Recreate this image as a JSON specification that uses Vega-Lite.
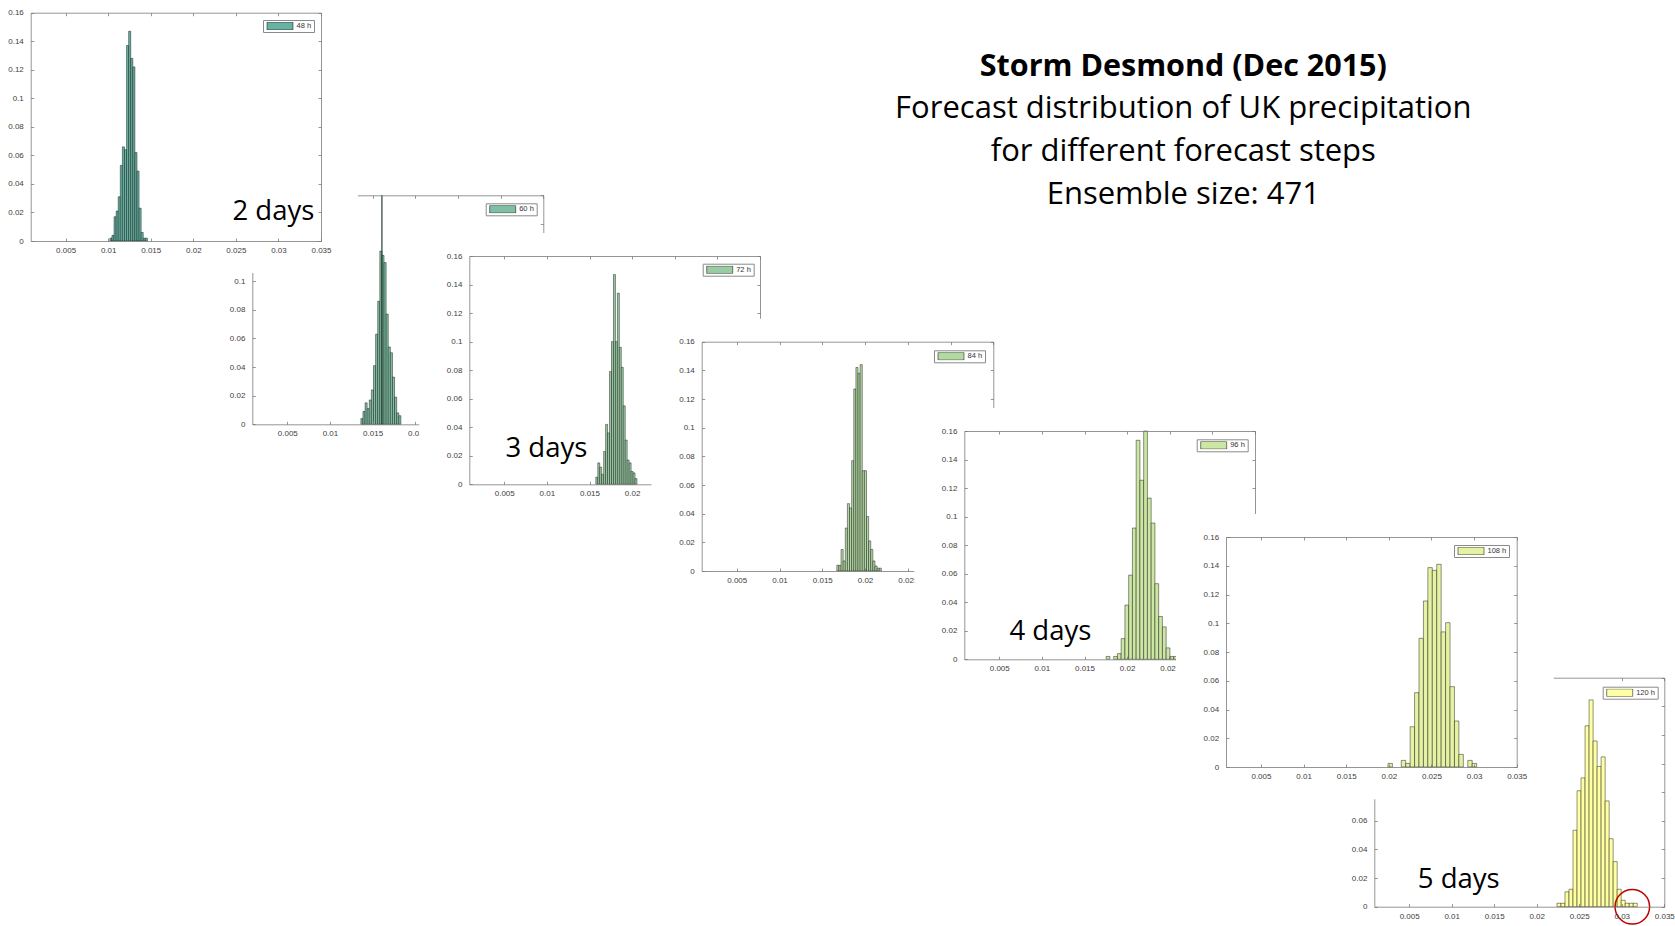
{
  "$schema": "https://vega.github.io/schema/vega-lite/v6.json",
  "padding": 0,
  "background": "white",
  "columns": 7,
  "spacing": -1675,
  "bounds": "flush",
  "align": "none",
  "resolve": {"scale": {"fill": "independent"}, "legend": {"fill": "independent"}},
  "datasets": {
    "d48": [
      {"b0": 0.010200, "b1": 0.010445, "p": 0.002, "step": "48 h"},
      {"b0": 0.010445, "b1": 0.010690, "p": 0.004, "step": "48 h"},
      {"b0": 0.010690, "b1": 0.010935, "p": 0.017, "step": "48 h"},
      {"b0": 0.010935, "b1": 0.011180, "p": 0.021, "step": "48 h"},
      {"b0": 0.011180, "b1": 0.011425, "p": 0.031, "step": "48 h"},
      {"b0": 0.011425, "b1": 0.011670, "p": 0.053, "step": "48 h"},
      {"b0": 0.011670, "b1": 0.011915, "p": 0.066, "step": "48 h"},
      {"b0": 0.011915, "b1": 0.012160, "p": 0.064, "step": "48 h"},
      {"b0": 0.012160, "b1": 0.012405, "p": 0.137, "step": "48 h"},
      {"b0": 0.012405, "b1": 0.012650, "p": 0.147, "step": "48 h"},
      {"b0": 0.012650, "b1": 0.012895, "p": 0.128, "step": "48 h"},
      {"b0": 0.012895, "b1": 0.013140, "p": 0.122, "step": "48 h"},
      {"b0": 0.013140, "b1": 0.013385, "p": 0.062, "step": "48 h"},
      {"b0": 0.013385, "b1": 0.013630, "p": 0.049, "step": "48 h"},
      {"b0": 0.013630, "b1": 0.013875, "p": 0.023, "step": "48 h"},
      {"b0": 0.013875, "b1": 0.014120, "p": 0.006, "step": "48 h"},
      {"b0": 0.014120, "b1": 0.014365, "p": 0.002, "step": "48 h"},
      {"b0": 0.014365, "b1": 0.014610, "p": 0.002, "step": "48 h"}
    ],
    "d60": [
      {"b0": 0.013620, "b1": 0.013867, "p": 0.004, "step": "60 h"},
      {"b0": 0.013867, "b1": 0.014114, "p": 0.009, "step": "60 h"},
      {"b0": 0.014114, "b1": 0.014361, "p": 0.015, "step": "60 h"},
      {"b0": 0.014361, "b1": 0.014608, "p": 0.011, "step": "60 h"},
      {"b0": 0.014608, "b1": 0.014855, "p": 0.017, "step": "60 h"},
      {"b0": 0.014855, "b1": 0.015102, "p": 0.024, "step": "60 h"},
      {"b0": 0.015102, "b1": 0.015349, "p": 0.041, "step": "60 h"},
      {"b0": 0.015349, "b1": 0.015596, "p": 0.063, "step": "60 h"},
      {"b0": 0.015596, "b1": 0.015843, "p": 0.086, "step": "60 h"},
      {"b0": 0.015843, "b1": 0.016090, "p": 0.121, "step": "60 h"},
      {"b0": 0.016090, "b1": 0.016337, "p": 0.118, "step": "60 h"},
      {"b0": 0.016337, "b1": 0.016584, "p": 0.113, "step": "60 h"},
      {"b0": 0.016584, "b1": 0.016831, "p": 0.077, "step": "60 h"},
      {"b0": 0.016831, "b1": 0.017078, "p": 0.054, "step": "60 h"},
      {"b0": 0.017078, "b1": 0.017325, "p": 0.050, "step": "60 h"},
      {"b0": 0.017325, "b1": 0.017572, "p": 0.033, "step": "60 h"},
      {"b0": 0.017572, "b1": 0.017819, "p": 0.019, "step": "60 h"},
      {"b0": 0.017819, "b1": 0.018066, "p": 0.008, "step": "60 h"},
      {"b0": 0.018066, "b1": 0.018313, "p": 0.006, "step": "60 h"},
      {"b0": 0.016050, "b1": 0.016130, "p": 0.160, "step": "60 h"}
    ],
    "d72": [
      {"b0": 0.01574, "b1": 0.01597, "p": 0.005, "step": "72 h"},
      {"b0": 0.01597, "b1": 0.01620, "p": 0.015, "step": "72 h"},
      {"b0": 0.01620, "b1": 0.01643, "p": 0.012, "step": "72 h"},
      {"b0": 0.01643, "b1": 0.01666, "p": 0.007, "step": "72 h"},
      {"b0": 0.01666, "b1": 0.01689, "p": 0.023, "step": "72 h"},
      {"b0": 0.01689, "b1": 0.01712, "p": 0.042, "step": "72 h"},
      {"b0": 0.01712, "b1": 0.01735, "p": 0.036, "step": "72 h"},
      {"b0": 0.01735, "b1": 0.01758, "p": 0.079, "step": "72 h"},
      {"b0": 0.01758, "b1": 0.01781, "p": 0.100, "step": "72 h"},
      {"b0": 0.01781, "b1": 0.01804, "p": 0.147, "step": "72 h"},
      {"b0": 0.01804, "b1": 0.01827, "p": 0.100, "step": "72 h"},
      {"b0": 0.01827, "b1": 0.01850, "p": 0.134, "step": "72 h"},
      {"b0": 0.01850, "b1": 0.01873, "p": 0.096, "step": "72 h"},
      {"b0": 0.01873, "b1": 0.01896, "p": 0.082, "step": "72 h"},
      {"b0": 0.01896, "b1": 0.01919, "p": 0.055, "step": "72 h"},
      {"b0": 0.01919, "b1": 0.01942, "p": 0.031, "step": "72 h"},
      {"b0": 0.01942, "b1": 0.01965, "p": 0.017, "step": "72 h"},
      {"b0": 0.01965, "b1": 0.01988, "p": 0.015, "step": "72 h"},
      {"b0": 0.01988, "b1": 0.02011, "p": 0.009, "step": "72 h"},
      {"b0": 0.02011, "b1": 0.02034, "p": 0.008, "step": "72 h"},
      {"b0": 0.02034, "b1": 0.02057, "p": 0.004, "step": "72 h"}
    ],
    "d84": [
      {"b0": 0.016700, "b1": 0.016948, "p": 0.004, "step": "84 h"},
      {"b0": 0.016948, "b1": 0.017196, "p": 0.004, "step": "84 h"},
      {"b0": 0.017196, "b1": 0.017444, "p": 0.015, "step": "84 h"},
      {"b0": 0.017444, "b1": 0.017692, "p": 0.007, "step": "84 h"},
      {"b0": 0.017692, "b1": 0.017940, "p": 0.030, "step": "84 h"},
      {"b0": 0.017940, "b1": 0.018188, "p": 0.047, "step": "84 h"},
      {"b0": 0.018188, "b1": 0.018436, "p": 0.044, "step": "84 h"},
      {"b0": 0.018436, "b1": 0.018684, "p": 0.077, "step": "84 h"},
      {"b0": 0.018684, "b1": 0.018932, "p": 0.127, "step": "84 h"},
      {"b0": 0.018932, "b1": 0.019180, "p": 0.142, "step": "84 h"},
      {"b0": 0.019180, "b1": 0.019428, "p": 0.138, "step": "84 h"},
      {"b0": 0.019428, "b1": 0.019676, "p": 0.144, "step": "84 h"},
      {"b0": 0.019676, "b1": 0.019924, "p": 0.070, "step": "84 h"},
      {"b0": 0.019924, "b1": 0.020172, "p": 0.070, "step": "84 h"},
      {"b0": 0.020172, "b1": 0.020420, "p": 0.038, "step": "84 h"},
      {"b0": 0.020420, "b1": 0.020668, "p": 0.021, "step": "84 h"},
      {"b0": 0.020668, "b1": 0.020916, "p": 0.015, "step": "84 h"},
      {"b0": 0.020916, "b1": 0.021164, "p": 0.007, "step": "84 h"},
      {"b0": 0.021164, "b1": 0.021412, "p": 0.0035, "step": "84 h"},
      {"b0": 0.021412, "b1": 0.021660, "p": 0.002, "step": "84 h"},
      {"b0": 0.021660, "b1": 0.021908, "p": 0.002, "step": "84 h"}
    ],
    "d96": [
      {"b0": 0.01754, "b1": 0.01798, "p": 0.002, "step": "96 h"},
      {"b0": 0.01842, "b1": 0.01886, "p": 0.002, "step": "96 h"},
      {"b0": 0.01886, "b1": 0.01930, "p": 0.004, "step": "96 h"},
      {"b0": 0.01930, "b1": 0.01974, "p": 0.0145, "step": "96 h"},
      {"b0": 0.01974, "b1": 0.02018, "p": 0.038, "step": "96 h"},
      {"b0": 0.02018, "b1": 0.02062, "p": 0.059, "step": "96 h"},
      {"b0": 0.02062, "b1": 0.02106, "p": 0.092, "step": "96 h"},
      {"b0": 0.02106, "b1": 0.02150, "p": 0.1535, "step": "96 h"},
      {"b0": 0.02150, "b1": 0.02194, "p": 0.1255, "step": "96 h"},
      {"b0": 0.02194, "b1": 0.02238, "p": 0.160, "step": "96 h"},
      {"b0": 0.02238, "b1": 0.02282, "p": 0.113, "step": "96 h"},
      {"b0": 0.02282, "b1": 0.02326, "p": 0.0955, "step": "96 h"},
      {"b0": 0.02326, "b1": 0.02370, "p": 0.053, "step": "96 h"},
      {"b0": 0.02370, "b1": 0.02414, "p": 0.030, "step": "96 h"},
      {"b0": 0.02414, "b1": 0.02458, "p": 0.0227, "step": "96 h"},
      {"b0": 0.02458, "b1": 0.02502, "p": 0.008, "step": "96 h"},
      {"b0": 0.02502, "b1": 0.02546, "p": 0.002, "step": "96 h"},
      {"b0": 0.02546, "b1": 0.02590, "p": 0.002, "step": "96 h"}
    ],
    "d108": [
      {"b0": 0.01990, "b1": 0.02042, "p": 0.0025, "step": "108 h"},
      {"b0": 0.02146, "b1": 0.02198, "p": 0.0046, "step": "108 h"},
      {"b0": 0.02198, "b1": 0.02250, "p": 0.0025, "step": "108 h"},
      {"b0": 0.02250, "b1": 0.02302, "p": 0.028, "step": "108 h"},
      {"b0": 0.02302, "b1": 0.02354, "p": 0.0517, "step": "108 h"},
      {"b0": 0.02354, "b1": 0.02406, "p": 0.0895, "step": "108 h"},
      {"b0": 0.02406, "b1": 0.02458, "p": 0.1155, "step": "108 h"},
      {"b0": 0.02458, "b1": 0.02510, "p": 0.1387, "step": "108 h"},
      {"b0": 0.02510, "b1": 0.02562, "p": 0.1368, "step": "108 h"},
      {"b0": 0.02562, "b1": 0.02614, "p": 0.141, "step": "108 h"},
      {"b0": 0.02614, "b1": 0.02666, "p": 0.094, "step": "108 h"},
      {"b0": 0.02666, "b1": 0.02718, "p": 0.1004, "step": "108 h"},
      {"b0": 0.02718, "b1": 0.02770, "p": 0.0559, "step": "108 h"},
      {"b0": 0.02770, "b1": 0.02822, "p": 0.032, "step": "108 h"},
      {"b0": 0.02822, "b1": 0.02874, "p": 0.0088, "step": "108 h"},
      {"b0": 0.02926, "b1": 0.02978, "p": 0.0046, "step": "108 h"},
      {"b0": 0.02978, "b1": 0.03030, "p": 0.0025, "step": "108 h"}
    ],
    "d120": [
      {"b0": 0.022380, "b1": 0.022852, "p": 0.0024, "step": "120 h"},
      {"b0": 0.022852, "b1": 0.023324, "p": 0.0024, "step": "120 h"},
      {"b0": 0.023324, "b1": 0.023796, "p": 0.0104, "step": "120 h"},
      {"b0": 0.023796, "b1": 0.024268, "p": 0.0122, "step": "120 h"},
      {"b0": 0.024268, "b1": 0.024740, "p": 0.0534, "step": "120 h"},
      {"b0": 0.024740, "b1": 0.025212, "p": 0.081, "step": "120 h"},
      {"b0": 0.025212, "b1": 0.025684, "p": 0.090, "step": "120 h"},
      {"b0": 0.025684, "b1": 0.026156, "p": 0.1264, "step": "120 h"},
      {"b0": 0.026156, "b1": 0.026628, "p": 0.1445, "step": "120 h"},
      {"b0": 0.026628, "b1": 0.027100, "p": 0.1158, "step": "120 h"},
      {"b0": 0.027100, "b1": 0.027572, "p": 0.098, "step": "120 h"},
      {"b0": 0.027572, "b1": 0.028044, "p": 0.1047, "step": "120 h"},
      {"b0": 0.028044, "b1": 0.028516, "p": 0.0739, "step": "120 h"},
      {"b0": 0.028516, "b1": 0.028988, "p": 0.0475, "step": "120 h"},
      {"b0": 0.028988, "b1": 0.029460, "p": 0.0315, "step": "120 h"},
      {"b0": 0.029460, "b1": 0.029932, "p": 0.0122, "step": "120 h"},
      {"b0": 0.029932, "b1": 0.030404, "p": 0.0045, "step": "120 h"},
      {"b0": 0.030404, "b1": 0.030876, "p": 0.0024, "step": "120 h"},
      {"b0": 0.030876, "b1": 0.031348, "p": 0.0024, "step": "120 h"},
      {"b0": 0.031348, "b1": 0.031820, "p": 0.0024, "step": "120 h"}
    ]
  },
  "concat": [
    {
      "width": 1675, "height": 926,
      "data": {"name": "d60"},
      "layer": [
        {"data": {"values": [{}]}, "mark": {"type": "rect", "fill": "white"},
         "encoding": {
           "x": {"datum": -0.00497, "type": "quantitative", "scale": {"domain": [0.0009, 0.035], "range": [252.3, 543.3], "nice": false, "zero": false}, "axis": {"orient": "top", "offset": -194.3, "values": [0.005,0.01,0.015,0.02,0.025,0.03,0.035], "labels": false, "title": null, "zindex": 1}},
           "x2": {"datum": 0.03934},
           "y": {"datum": -0.02236, "type": "quantitative", "scale": {"domain": [0, 0.16], "range": [423.3, 194.3], "nice": false, "zero": false}, "axis": {"orient": "right", "offset": -1131.7, "values": [0.14,0.16], "labels": false, "title": null, "zindex": 1}},
           "y2": {"datum": 0.17607}
         }},
        {"mark": {"type": "rect", "stroke": "black", "strokeWidth": 0.5, "strokeOpacity": 0.85},
         "encoding": {
           "x": {"field": "b0", "type": "quantitative", "axis": {"orient": "bottom", "offset": -502.7, "values": [0.005,0.01,0.015,0.02], "format": ".3~g", "title": null, "zindex": 1}},
           "x2": {"field": "b1"},
           "y": {"field": "p", "type": "quantitative", "axis": {"orient": "left", "offset": -252.3, "values": [0,0.02,0.04,0.06,0.08,0.1], "format": ".3~g", "title": null, "zindex": 1}},
           "y2": {"datum": 0},
           "fill": {"field": "step", "type": "nominal", "scale": {"range": ["#80bfa3"]}, "legend": {"title": null, "orient": "none", "legendX": 485.7, "legendY": 202.3}}
         }}
      ],
      "resolve": {"axis": {"x": "independent", "y": "independent"}}
    },
    {
      "width": 1675, "height": 926,
      "data": {"name": "d48"},
      "title": {"text": "Storm Desmond (Dec 2015)", "subtitle": ["Forecast distribution of UK precipitation", "for different forecast steps", "Ensemble size: 471"], "orient": "bottom", "anchor": "middle", "frame": "group", "offset": -875, "dx": 345.8, "font": "Open Sans", "fontSize": 30.5, "fontWeight": "bold", "color": "black", "subtitleFont": "Open Sans", "subtitleFontSize": 31, "subtitleColor": "black", "subtitlePadding": 11.8, "subtitleLineHeight": 43},
      "layer": [
        {"data": {"values": [{}]}, "mark": {"type": "rect", "fill": "white"},
         "encoding": {
           "x": {"datum": -0.0027, "type": "quantitative", "scale": {"domain": [0.0009, 0.035], "range": [30.7, 321], "nice": false, "zero": false}, "axis": {"orient": "top", "offset": -11.7, "values": [0.005,0.01,0.015,0.02,0.025,0.03,0.035], "labels": false, "title": null, "zindex": 1}},
           "x2": {"datum": 0.03934},
           "y": {"datum": -0.02236, "type": "quantitative", "scale": {"domain": [0, 0.16], "range": [240, 11.7], "nice": false, "zero": false}, "axis": {"orient": "right", "offset": -1354, "values": [0,0.02,0.04,0.06,0.08,0.1,0.12,0.14,0.16], "labels": false, "title": null, "zindex": 1}},
           "y2": {"datum": 0.1682}
         }},
        {"mark": {"type": "rect", "stroke": "black", "strokeWidth": 0.5, "strokeOpacity": 0.85},
         "encoding": {
           "x": {"field": "b0", "type": "quantitative", "axis": {"orient": "bottom", "offset": -686, "values": [0.005,0.01,0.015,0.02,0.025,0.03,0.035], "format": ".3~g", "title": "2 days", "titleX": 232, "titleY": -21.7, "zindex": 1}},
           "x2": {"field": "b1"},
           "y": {"field": "p", "type": "quantitative", "axis": {"orient": "left", "offset": -30.7, "values": [0,0.02,0.04,0.06,0.08,0.1,0.12,0.14,0.16], "format": ".3~g", "title": null, "zindex": 1}},
           "y2": {"datum": 0},
           "fill": {"field": "step", "type": "nominal", "scale": {"range": ["#66b3a3"]}, "legend": {"title": null, "orient": "none", "legendX": 263, "legendY": 19}}
         }}
      ],
      "resolve": {"axis": {"x": "independent", "y": "independent"}}
    },
    {
      "width": 1675, "height": 926,
      "data": {"name": "d72"},
      "layer": [
        {"data": {"values": [{}]}, "mark": {"type": "rect", "fill": "white"},
         "encoding": {
           "x": {"datum": -0.00497, "type": "quantitative", "scale": {"domain": [0.0009, 0.035], "range": [469.3, 760], "nice": false, "zero": false}, "axis": {"orient": "top", "offset": -255, "values": [0.005,0.01,0.015,0.02,0.025,0.03,0.035], "labels": false, "title": null, "zindex": 1}},
           "x2": {"datum": 0.03934},
           "y": {"datum": -0.02236, "type": "quantitative", "scale": {"domain": [0, 0.16], "range": [483.3, 255], "nice": false, "zero": false}, "axis": {"orient": "right", "offset": -915, "values": [0.12,0.14,0.16], "labels": false, "title": null, "zindex": 1}},
           "y2": {"datum": 0.17607}
         }},
        {"mark": {"type": "rect", "stroke": "black", "strokeWidth": 0.5, "strokeOpacity": 0.85},
         "encoding": {
           "x": {"field": "b0", "type": "quantitative", "axis": {"orient": "bottom", "offset": -442.7, "values": [0.005,0.01,0.015,0.02], "format": ".3~g", "title": "3 days", "titleX": 505, "titleY": -28.3, "zindex": 1}},
           "x2": {"field": "b1"},
           "y": {"field": "p", "type": "quantitative", "axis": {"orient": "left", "offset": -469.3, "values": [0,0.02,0.04,0.06,0.08,0.1,0.12,0.14,0.16], "format": ".3~g", "title": null, "zindex": 1}},
           "y2": {"datum": 0},
           "fill": {"field": "step", "type": "nominal", "scale": {"range": ["#99cca3"]}, "legend": {"title": null, "orient": "none", "legendX": 702.7, "legendY": 262.7}}
         }}
      ],
      "resolve": {"axis": {"x": "independent", "y": "independent"}}
    },
    {
      "width": 1675, "height": 926,
      "data": {"name": "d84"},
      "layer": [
        {"data": {"values": [{}]}, "mark": {"type": "rect", "fill": "white"},
         "encoding": {
           "x": {"datum": -0.00497, "type": "quantitative", "scale": {"domain": [0.0009, 0.035], "range": [701.7, 993.3], "nice": false, "zero": false}, "axis": {"orient": "top", "offset": -340.7, "values": [0.005,0.01,0.015,0.02,0.025,0.03,0.035], "labels": false, "title": null, "zindex": 1}},
           "x2": {"datum": 0.03934},
           "y": {"datum": -0.02236, "type": "quantitative", "scale": {"domain": [0, 0.16], "range": [570, 340.7], "nice": false, "zero": false}, "axis": {"orient": "right", "offset": -681.7, "values": [0.12,0.14,0.16], "labels": false, "title": null, "zindex": 1}},
           "y2": {"datum": 0.17607}
         }},
        {"mark": {"type": "rect", "stroke": "black", "strokeWidth": 0.5, "strokeOpacity": 0.85},
         "encoding": {
           "x": {"field": "b0", "type": "quantitative", "axis": {"orient": "bottom", "offset": -356, "values": [0.005,0.01,0.015,0.02,0.025], "format": ".3~g", "title": null, "zindex": 1}},
           "x2": {"field": "b1"},
           "y": {"field": "p", "type": "quantitative", "axis": {"orient": "left", "offset": -701.7, "values": [0,0.02,0.04,0.06,0.08,0.1,0.12,0.14,0.16], "format": ".3~g", "title": null, "zindex": 1}},
           "y2": {"datum": 0},
           "fill": {"field": "step", "type": "nominal", "scale": {"range": ["#b3d9a3"]}, "legend": {"title": null, "orient": "none", "legendX": 934, "legendY": 349.3}}
         }}
      ],
      "resolve": {"axis": {"x": "independent", "y": "independent"}}
    },
    {
      "width": 1675, "height": 926,
      "data": {"name": "d96"},
      "layer": [
        {"data": {"values": [{}]}, "mark": {"type": "rect", "fill": "white"},
         "encoding": {
           "x": {"datum": -0.00497, "type": "quantitative", "scale": {"domain": [0.0009, 0.035], "range": [964.3, 1255], "nice": false, "zero": false}, "axis": {"orient": "top", "offset": -430, "values": [0.005,0.01,0.015,0.02,0.025,0.03,0.035], "labels": false, "title": null, "zindex": 1}},
           "x2": {"datum": 0.03934},
           "y": {"datum": -0.02236, "type": "quantitative", "scale": {"domain": [0, 0.16], "range": [658.3, 430], "nice": false, "zero": false}, "axis": {"orient": "right", "offset": -420, "values": [0.1,0.12,0.14,0.16], "labels": false, "title": null, "zindex": 1}},
           "y2": {"datum": 0.17607}
         }},
        {"mark": {"type": "rect", "stroke": "black", "strokeWidth": 0.5, "strokeOpacity": 0.85},
         "encoding": {
           "x": {"field": "b0", "type": "quantitative", "axis": {"orient": "bottom", "offset": -267.7, "values": [0.005,0.01,0.015,0.02,0.025], "format": ".3~g", "title": "4 days", "titleX": 1009, "titleY": -20, "zindex": 1}},
           "x2": {"field": "b1"},
           "y": {"field": "p", "type": "quantitative", "axis": {"orient": "left", "offset": -964.3, "values": [0,0.02,0.04,0.06,0.08,0.1,0.12,0.14,0.16], "format": ".3~g", "title": null, "zindex": 1}},
           "y2": {"datum": 0},
           "fill": {"field": "step", "type": "nominal", "scale": {"range": ["#cce6a3"]}, "legend": {"title": null, "orient": "none", "legendX": 1196.7, "legendY": 438.3}}
         }}
      ],
      "resolve": {"axis": {"x": "independent", "y": "independent"}}
    },
    {
      "width": 1675, "height": 926,
      "data": {"name": "d120"},
      "layer": [
        {"data": {"values": [{}]}, "mark": {"type": "rect", "fill": "white"},
         "encoding": {
           "x": {"datum": -0.00497, "type": "quantitative", "scale": {"domain": [0.0009, 0.035], "range": [1374.3, 1664.3], "nice": false, "zero": false}, "axis": {"orient": "top", "offset": -676.7, "values": [0.03,0.035], "labels": false, "title": null, "zindex": 1}},
           "x2": {"datum": 0.03626},
           "y": {"datum": -0.01418, "type": "quantitative", "scale": {"domain": [0, 0.16], "range": [905.7, 676.7], "nice": false, "zero": false}, "axis": {"orient": "right", "offset": -10.7, "values": [0,0.02,0.04,0.06,0.08,0.1,0.12,0.14,0.16], "labels": false, "title": null, "zindex": 1}},
           "y2": {"datum": 0.17607}
         }},
        {"mark": {"type": "rect", "stroke": "black", "strokeWidth": 0.5, "strokeOpacity": 0.85},
         "encoding": {
           "x": {"field": "b0", "type": "quantitative", "axis": {"orient": "bottom", "offset": -20.3, "values": [0.005,0.01,0.015,0.02,0.025,0.03,0.035], "format": ".3~g", "title": "5 days", "titleX": 1417.3, "titleY": -19, "zindex": 1}},
           "x2": {"field": "b1"},
           "y": {"field": "p", "type": "quantitative", "axis": {"orient": "left", "offset": -1374.3, "values": [0,0.02,0.04,0.06], "format": ".3~g", "title": null, "zindex": 1}},
           "y2": {"datum": 0},
           "fill": {"field": "step", "type": "nominal", "scale": {"range": ["#ffffa3"]}, "legend": {"title": null, "orient": "none", "legendX": 1602.7, "legendY": 685.7}}
         }},
        {"data": {"values": [{}]}, "mark": {"type": "point", "shape": "circle", "filled": false, "size": 1195, "stroke": "#c00000", "strokeWidth": 1.5, "opacity": 1},
         "encoding": {
           "x": {"datum": 0.03124, "type": "quantitative", "axis": null},
           "y": {"datum": 0, "type": "quantitative", "axis": null}
         }}
      ],
      "resolve": {"axis": {"x": "independent", "y": "independent"}}
    },
    {
      "width": 1675, "height": 926,
      "data": {"name": "d108"},
      "layer": [
        {"data": {"values": [{}]}, "mark": {"type": "rect", "fill": "white"},
         "encoding": {
           "x": {"datum": -0.00497, "type": "quantitative", "scale": {"domain": [0.0009, 0.035], "range": [1226, 1516.7], "nice": false, "zero": false}, "axis": {"orient": "top", "offset": -536, "values": [0.005,0.01,0.015,0.02,0.025,0.03,0.035], "labels": false, "title": null, "zindex": 1}},
           "x2": {"datum": 0.03934},
           "y": {"datum": -0.02236, "type": "quantitative", "scale": {"domain": [0, 0.16], "range": [766, 536], "nice": false, "zero": false}, "axis": {"orient": "right", "offset": -158.3, "values": [0,0.02,0.04,0.06,0.08,0.1,0.12,0.14,0.16], "labels": false, "title": null, "zindex": 1}},
           "y2": {"datum": 0.17607}
         }},
        {"mark": {"type": "rect", "stroke": "black", "strokeWidth": 0.5, "strokeOpacity": 0.85},
         "encoding": {
           "x": {"field": "b0", "type": "quantitative", "axis": {"orient": "bottom", "offset": -160, "values": [0.005,0.01,0.015,0.02,0.025,0.03,0.035], "format": ".3~g", "title": null, "zindex": 1}},
           "x2": {"field": "b1"},
           "y": {"field": "p", "type": "quantitative", "axis": {"orient": "left", "offset": -1226, "values": [0,0.02,0.04,0.06,0.08,0.1,0.12,0.14,0.16], "format": ".3~g", "title": null, "zindex": 1}},
           "y2": {"datum": 0},
           "fill": {"field": "step", "type": "nominal", "scale": {"range": ["#e6f2a3"]}, "legend": {"title": null, "orient": "none", "legendX": 1454, "legendY": 544}}
         }}
      ],
      "resolve": {"axis": {"x": "independent", "y": "independent"}}
    }
  ],
  "config": {
    "view": {"stroke": null},
    "axis": {
      "grid": false,
      "domainColor": "#7a7a7a",
      "domainWidth": 0.8,
      "tickColor": "#7a7a7a",
      "tickWidth": 0.8,
      "tickSize": -3,
      "labelFont": "Liberation Sans",
      "labelFontSize": 8,
      "labelColor": "#404040",
      "labelFlush": false,
      "labelOverlap": false,
      "titleFont": "Open Sans",
      "titleFontSize": 27.5,
      "titleFontWeight": "normal",
      "titleColor": "black",
      "titleAlign": "left",
      "titleBaseline": "alphabetic",
      "titleAngle": 0
    },
    "axisX": {"labelPadding": 8.5},
    "axisY": {"labelPadding": 10.4},
    "legend": {
      "symbolType": "M-1,-0.29H1V0.29H-1Z",
      "symbolSize": 676,
      "symbolStrokeWidth": 0.5,
      "symbolStrokeColor": "black",
      "symbolOpacity": 1,
      "symbolOffset": 1.5,
      "clipHeight": 8,
      "labelOffset": 3,
      "labelFont": "Liberation Sans",
      "labelFontSize": 7.5,
      "labelColor": "#333333",
      "padding": 2,
      "strokeColor": "#8a8a8a",
      "fillColor": "white",
      "cornerRadius": 0
    }
  }
}
